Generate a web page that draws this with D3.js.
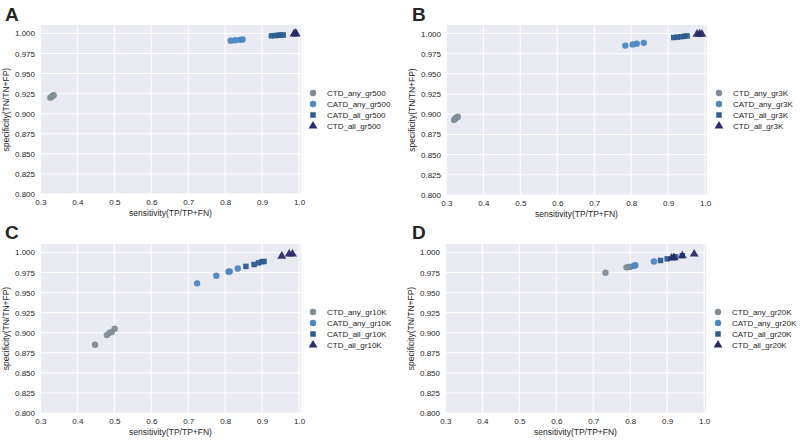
<!DOCTYPE html>
<html>
<head>
<meta charset="utf-8">
<script src="https://cdn.jsdelivr.net/npm/d3@7"></script>
<style>
  body { margin: 0; background: #fff; }
  text { font-family: "Liberation Sans", Arial, sans-serif; fill: #262626; }
</style>
</head>
<body>
<div id="canvas"></div>
<script>
// series names and colours
const seriesNames = ["CTD_any", "CATD_any", "CATD_all", "CTD_all"];
const seriesShapes = ["circle", "circle", "square", "triangle"];
const seriesColours = ["#808d97", "#4b87c3", "#2c5b91", "#2a2b6a"];

const panelLetters = ["A", "B", "C", "D"];
const panelSuffixes = ["gr500", "gr3K", "gr10K", "gr20K"];

const xTicks = [0.3, 0.4, 0.5, 0.6, 0.7, 0.8, 0.9, 1.0];
const yTicks = [0.800, 0.825, 0.850, 0.875, 0.900, 0.925, 0.950, 0.975, 1.000];

// data [sensitivity, specificity]
const ctdAnyA = [[0.327, 0.920], [0.330, 0.921], [0.333, 0.922], [0.336, 0.923]];
const catdAnyA = [[0.815, 0.991], [0.827, 0.9915], [0.840, 0.992], [0.847, 0.9925]];
const catdAllA = [[0.925, 0.997], [0.935, 0.9973], [0.943, 0.9977], [0.950, 0.998], [0.957, 0.998]];
const ctdAllA = [[0.986, 0.9995], [0.990, 1.000], [0.992, 0.9995]];

const ctdAnyB = [[0.321, 0.893], [0.325, 0.895], [0.328, 0.896], [0.331, 0.897]];
const catdAnyB = [[0.784, 0.985], [0.804, 0.9865], [0.815, 0.9874], [0.834, 0.9884]];
const catdAllB = [[0.915, 0.995], [0.925, 0.9955], [0.935, 0.996], [0.944, 0.9966], [0.951, 0.997]];
const ctdAllB = [[0.978, 0.9992], [0.985, 0.9995], [0.991, 0.9992]];

const ctdAnyC = [[0.448, 0.885], [0.480, 0.897], [0.487, 0.900], [0.493, 0.901], [0.501, 0.905]];
const catdAnyC = [[0.724, 0.9615], [0.776, 0.971], [0.809, 0.976], [0.812, 0.9764], [0.834, 0.980]];
const catdAllC = [[0.856, 0.9826], [0.878, 0.985], [0.890, 0.987], [0.899, 0.9884], [0.905, 0.9888]];
const ctdAllC = [[0.953, 0.9954], [0.973, 0.998], [0.982, 0.998]];

const ctdAnyD = [[0.733, 0.9747], [0.790, 0.9814], [0.796, 0.9818], [0.800, 0.982]];
const catdAnyD = [[0.810, 0.9834], [0.814, 0.984], [0.864, 0.9888]];
const catdAllD = [[0.882, 0.990], [0.900, 0.992], [0.923, 0.9945], [0.941, 0.996]];
const ctdAllD = [[0.912, 0.993], [0.918, 0.9935], [0.941, 0.9958], [0.973, 0.998]];

const panelData = [
  [ctdAnyA, catdAnyA, catdAllA, ctdAllA],
  [ctdAnyB, catdAnyB, catdAllB, ctdAllB],
  [ctdAnyC, catdAnyC, catdAllC, ctdAllC],
  [ctdAnyD, catdAnyD, catdAllD, ctdAllD]
];

// panel plot areas
const panelBoxes = [
  {left: 40, right: 301, top: 25, bottom: 194},
  {left: 446, right: 707, top: 25, bottom: 195},
  {left: 40, right: 301, top: 244, bottom: 413},
  {left: 445, right: 706, top: 244, bottom: 413}
];

const svg = d3.select("#canvas")
  .append("svg")
  .attr("width", 800)
  .attr("height", 442);

const symbolFor = shape => {
  if (shape === "square") return d3.symbol().type(d3.symbolSquare).size(30)();
  if (shape === "triangle") return d3.symbol().type(d3.symbolTriangle).size(34)();
  return d3.symbol().type(d3.symbolCircle).size(32)();
};

panelBoxes.forEach((box, p) => {
  const w = box.right - box.left,
    h = box.bottom - box.top;

  const x = d3.scaleLinear().domain([0.299, 1.005]).range([0, w]);
  const y = d3.scaleLinear().domain([0.8, 1.0105]).range([h, 0]);

  const g = svg.append("g")
    .attr("transform", "translate(" + box.left + "," + box.top + ")");

  g.append("rect")
    .attr("width", w)
    .attr("height", h)
    .attr("fill", "#eaeaf2");

  // grid
  g.selectAll(".vgrid")
    .data(xTicks)
    .join("line")
    .attr("class", "vgrid")
    .attr("x1", d => x(d)).attr("x2", d => x(d))
    .attr("y1", 0).attr("y2", h)
    .attr("stroke", "#fff").attr("stroke-width", 1);

  g.selectAll(".hgrid")
    .data(yTicks)
    .join("line")
    .attr("class", "hgrid")
    .attr("x1", 0).attr("x2", w)
    .attr("y1", d => y(d)).attr("y2", d => y(d))
    .attr("stroke", "#fff").attr("stroke-width", 1);

  // axes
  const xAxis = g.append("g")
    .attr("transform", "translate(0," + h + ")")
    .call(d3.axisBottom(x).tickValues(xTicks).tickFormat(d3.format(".1f")).tickSize(0).tickPadding(5));
  const yAxis = g.append("g")
    .call(d3.axisLeft(y).tickValues(yTicks).tickFormat(d3.format(".3f")).tickSize(0).tickPadding(5));
  [xAxis, yAxis].forEach(a => {
    a.select(".domain").remove();
    a.selectAll("text").attr("font-size", 8).attr("fill", "#333");
  });

  g.append("text")
    .attr("x", w / 2)
    .attr("y", h + 22)
    .attr("text-anchor", "middle")
    .attr("font-size", 8.5)
    .text("sensitivity(TP/TP+FN)");

  g.append("text")
    .attr("transform", "translate(" + (-31) + "," + (h / 2) + ") rotate(-90)")
    .attr("text-anchor", "middle")
    .attr("font-size", 8.5)
    .text("specificity(TN/TN+FP)");

  // points
  panelData[p].forEach((series, s) => {
    g.selectAll(".pt" + s)
      .data(series)
      .join("path")
      .attr("class", "pt" + s)
      .attr("d", symbolFor(seriesShapes[s]))
      .attr("transform", d => "translate(" + x(d[0]) + "," + y(d[1]) + ")")
      .attr("fill", seriesColours[s])
      .attr("opacity", 0.95);
  });

  // legend
  const legend = g.append("g")
    .attr("transform", "translate(" + (w + 12) + ",68)");
  seriesNames.forEach((name, s) => {
    legend.append("path")
      .attr("d", symbolFor(seriesShapes[s]))
      .attr("transform", "translate(0," + (s * 11) + ")")
      .attr("fill", seriesColours[s]);
    legend.append("text")
      .attr("x", 14)
      .attr("y", s * 11)
      .attr("dy", "0.35em")
      .attr("font-size", 8)
      .text(name + "_" + panelSuffixes[p]);
  });

  // panel letter
  svg.append("text")
    .attr("x", p % 2 === 0 ? 5 : 412)
    .attr("y", p < 2 ? 21 : 239)
    .attr("font-size", 19)
    .attr("font-weight", "bold")
    .attr("fill", "#000")
    .text(panelLetters[p]);
});
</script>
</body>
</html>
